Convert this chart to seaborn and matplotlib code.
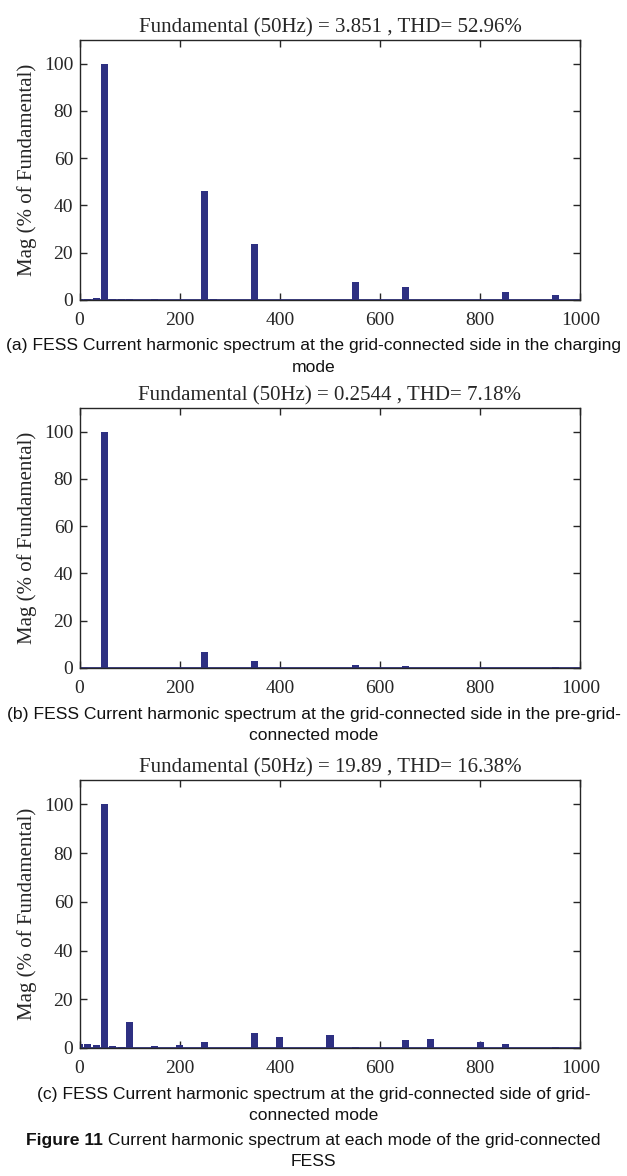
import matplotlib
matplotlib.use("Agg")
import matplotlib.pyplot as plt
import seaborn as sns
import pandas as pd

sns.set_theme(style="white")
plt.rcParams['font.family'] = ['Liberation Serif', 'DejaVu Serif']

# ---- data (frequency bins in Hz, magnitude in % of fundamental) ----
freq_a = [0, 16.67, 33.33, 50, 66.67, 83.33, 100, 150, 250, 266.67, 350, 550, 650, 850, 950]
mag_a = [0.3, 0.3, 1.0, 100, 0.6, 0.3, 0.3, 0.4, 46.0, 0.3, 23.5, 7.5, 5.6, 3.5, 2.2]
title_a = "Fundamental (50Hz) = 3.851 , THD= 52.96%"
cap_a = "(a) FESS Current harmonic spectrum at the grid-connected side in the charging\nmode"

freq_b = [0, 16.67, 50, 250, 350, 550, 650, 850, 950]
mag_b = [0.2, 0.1, 100, 6.6, 3.1, 1.1, 1.0, 0.2, 0.6]
title_b = "Fundamental (50Hz) = 0.2544 , THD= 7.18%"
cap_b = "(b) FESS Current harmonic spectrum at the grid-connected side in the pre-grid-\nconnected mode"

freq_c = [0, 16.67, 33.33, 50, 66.67, 83.33, 100, 150, 200, 250, 350, 400, 500, 550, 650, 700, 800, 850, 950]
mag_c = [1.5, 1.7, 1.4, 100, 1.0, 0.6, 10.8, 1.0, 1.4, 2.6, 6.3, 4.6, 5.5, 0.6, 3.4, 3.8, 2.6, 1.8, 0.6]
title_c = "Fundamental (50Hz) = 19.89 , THD= 16.38%"
cap_c = "(c) FESS Current harmonic spectrum at the grid-connected side of grid-\nconnected mode"

x_ticks = [0, 200, 400, 600, 800, 1000]
y_ticks = [0, 20, 40, 60, 80, 100]
ylabel = "Mag (% of Fundamental)"
fig_bold = "Figure 11"
fig_rest = " Current harmonic spectrum at each mode of the grid-connected"
fig_line2 = "FESS"

BAR = "#2E3082"
BAR_W = 14.0  # bar width in Hz

cap_font = 'Liberation Sans'
cap_size = 12.6

fig = plt.figure(figsize=(6.27, 11.76), dpi=100)

W = 627.0
H = 1176.0
left = 79.5 / W
width = 501.0 / W

panels = [
    (freq_a, mag_a, title_a, cap_a, 40, 300),
    (freq_b, mag_b, title_b, cap_b, 408, 668),
    (freq_c, mag_c, title_c, cap_c, 780, 1048),
]

for fr, mg, ttl, cap, top, bot in panels:
    ax = fig.add_axes([left, 1 - bot / H, width, (bot - top) / H])
    df = pd.DataFrame({"f": fr, "m": mg})
    sns.barplot(data=df, x="f", y="m", native_scale=True, color=BAR,
                saturation=1, width=0.8, errorbar=None, ax=ax, linewidth=0,
                zorder=2)
    for p in ax.patches:
        c = p.get_x() + p.get_width() / 2
        p.set_width(BAR_W)
        p.set_x(c - BAR_W / 2)
    ax.axhline(0, color=BAR, lw=1.3, zorder=1.5)
    ax.set_xlim(0, 1000)
    ax.set_ylim(0, 110)
    ax.set_xticks(x_ticks)
    ax.set_yticks(y_ticks)
    ax.set_xlabel("")
    ax.set_ylabel(ylabel, fontsize=15, color="#262626", labelpad=5)
    ax.set_title(ttl, fontsize=15, color="#262626", pad=5.5)
    ax.tick_params(direction="in", length=5, width=1, colors="#262626",
                   labelsize=14, top=True, right=True, bottom=True, left=True,
                   labelcolor="#262626")
    ax.tick_params(axis="x", pad=8.5)
    ax.tick_params(axis="y", pad=4.5)
    for s in ax.spines.values():
        s.set_color("#262626")
        s.set_linewidth(1.0)
    # caption
    lines = cap.split("\n")
    ycap = bot + 46
    for i, ln in enumerate(lines):
        fig.text(0.5, 1 - (ycap + i * 21) / H, ln, ha="center", va="center",
                 fontsize=cap_size, family=cap_font, color="#111111")

# figure caption
fig.canvas.draw()
r = fig.canvas.get_renderer()
y1 = 1 - 1140 / H
tb = fig.text(0, y1, fig_bold, ha="left", va="center", fontsize=cap_size,
              family=cap_font, weight="bold", color="#111111")
tr = fig.text(0, y1, fig_rest, ha="left", va="center", fontsize=cap_size,
              family=cap_font, color="#111111")
wb = tb.get_window_extent(r).width
wr = tr.get_window_extent(r).width
x0 = (W - (wb + wr)) / 2
tb.set_x(x0 / W)
tr.set_x((x0 + wb) / W)
fig.text(0.5, 1 - 1161 / H, fig_line2, ha="center", va="center", fontsize=cap_size,
         family=cap_font, color="#111111")

fig.savefig("out.png", dpi=100)
